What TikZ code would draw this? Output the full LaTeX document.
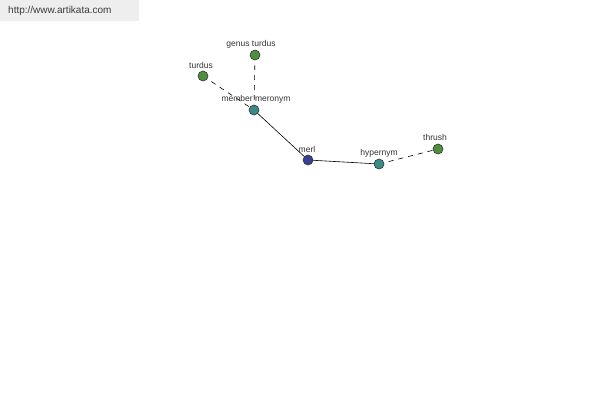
\documentclass[tikz,border=0pt]{standalone}
\usepackage{fontspec}
\setmainfont{Liberation Sans}
\usetikzlibrary{backgrounds}
\definecolor{hdrbg}{HTML}{EEEEEE}
\definecolor{hdrtxt}{HTML}{3A3A3A}
\definecolor{ngreen}{HTML}{4E8F3E}
\definecolor{nteal}{HTML}{3A8A86}
\definecolor{nblue}{HTML}{3A3F96}
\definecolor{lbl}{HTML}{333333}
\tikzset{
  px/.style={x=1pt,y=-1pt},
  dot/.style={circle,draw=black!80,line width=0.6pt,minimum size=10pt,inner sep=0pt},
  gdot/.style={dot,fill=ngreen},
  tdot/.style={dot,fill=nteal},
  bdot/.style={dot,fill=nblue},
  lab/.style={text=lbl,font=\fontsize{8.5}{9}\selectfont,inner sep=0pt},
  solidedge/.style={draw=black,line width=0.6pt},
  dashedge/.style={draw=black,line width=0.6pt,dash pattern=on 5pt off 5pt},
}
\begin{document}
\begin{tikzpicture}[px]
\useasboundingbox (0,0) rectangle (600,400);
\node[fill=hdrbg,minimum width=139pt,minimum height=21pt,anchor=north west,inner sep=0pt] (hdr) at (0,0) {};
\node[text=hdrtxt,font=\fontsize{10}{11}\selectfont,anchor=west,inner sep=0pt] (url) at (8,11) {http://www.artikata.com};
\node[gdot] (turdus) at (203,76) {};
\node[gdot] (genus) at (255,55) {};
\node[tdot] (member) at (254,110) {};
\node[bdot] (merl) at (308,160) {};
\node[tdot] (hyper) at (379,164) {};
\node[gdot] (thrush) at (438,149) {};
\begin{scope}[on background layer]
\path[dashedge] (turdus.center) -- (member.center);
\path[dashedge] (genus.center) -- (member.center);
\path[solidedge] (member.center) -- (merl.center);
\path[solidedge] (merl.center) -- (hyper.center);
\path[dashedge] (hyper.center) -- (thrush.center);
\end{scope}
\node[lab] (lturdus) at (201,65) {turdus};
\node[lab] (lgenus) at (251,44) {genus turdus};
\node[lab] (lmember) at (256,99) {member meronym};
\node[lab] (lmerl) at (307,149) {merl};
\node[lab] (lhyper) at (379,153) {hypernym};
\node[lab] (lthrush) at (435,137) {thrush};
\end{tikzpicture}
\end{document}
